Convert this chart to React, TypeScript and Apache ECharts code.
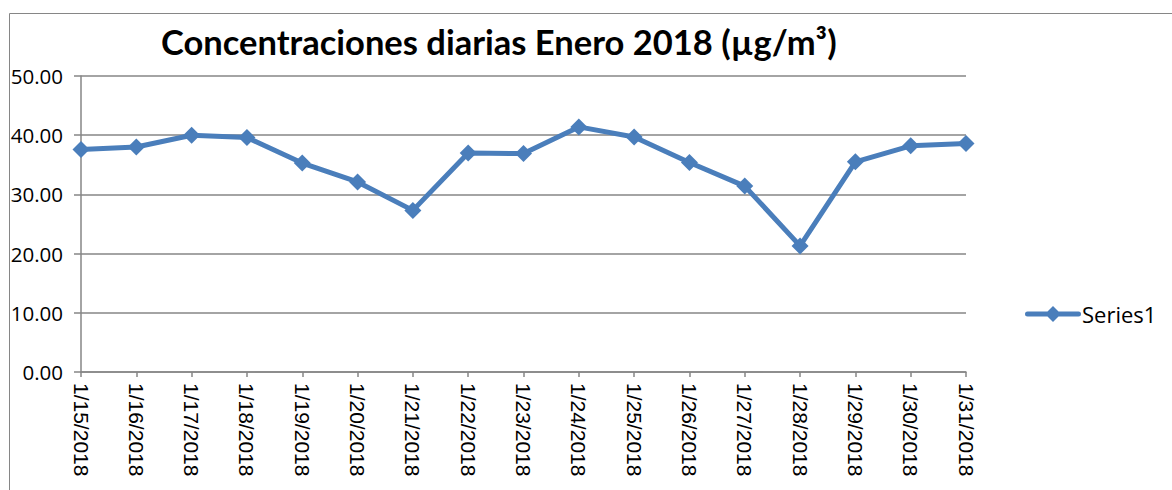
import React, { useEffect, useRef } from "react";
import * as echarts from "echarts";

const categories = [
  "1/15/2018", "1/16/2018", "1/17/2018", "1/18/2018", "1/19/2018", "1/20/2018",
  "1/21/2018", "1/22/2018", "1/23/2018", "1/24/2018", "1/25/2018", "1/26/2018",
  "1/27/2018", "1/28/2018", "1/29/2018", "1/30/2018", "1/31/2018",
];
const series1 = [
  37.6, 38.0, 40.0, 39.6, 35.3, 32.1, 27.3, 37.0, 36.9, 41.4, 39.7, 35.4, 31.4,
  21.3, 35.5, 38.2, 38.6,
];
const titleText = "Concentraciones diarias Enero 2018 (µg/m³)";
const seriesName = "Series1";

const legendIcon =
  "path://M2.5,5.5 L53.5,5.5 A2.5,2.5 0 0 1 53.5,10.5 L2.5,10.5 A2.5,2.5 0 0 1 2.5,5.5 Z M28,0 L36,8 L28,16 L20,8 Z";

export default function App() {
  const ref = useRef<HTMLDivElement>(null);
  useEffect(() => {
    if (!ref.current) return;
    const chart = echarts.init(ref.current, null, { renderer: "svg" });
    const blue = "#4A7EBB";
    const grey = "#868686";
    chart.setOption({
      animation: false,
      backgroundColor: "#ffffff",
      title: {
        text: titleText,
        left: 156,
        top: 19,
        textStyle: {
          fontFamily: "Lato, 'Open Sans', sans-serif",
          fontWeight: "bold",
          fontSize: 34.5,
          color: "#000",
        },
      },
      legend: {
        data: [{ name: seriesName, icon: legendIcon }],
        left: 1020,
        top: 298,
        itemWidth: 56,
        itemHeight: 16,
        itemGap: 4,
        symbolKeepAspect: false,
        textStyle: {
          fontFamily: "'Open Sans', Lato, sans-serif",
          fontSize: 22,
          color: "#000",
          padding: [0, 0, 0, -4],
        },
      },
      graphic: [
        {
          type: "rect",
          shape: { x: 9.5, y: 13.5, width: 1200, height: 520 },
          style: { fill: "none", stroke: grey, lineWidth: 1 },
          silent: true,
        },
      ],
      grid: { left: 81, right: 206, top: 76, bottom: 118, containLabel: false },
      xAxis: {
        type: "category",
        data: categories,
        boundaryGap: false,
        axisLine: { lineStyle: { color: grey, width: 1.5 } },
        axisTick: { alignWithLabel: true, length: 5, lineStyle: { color: grey, width: 1.5 } },
        axisLabel: {
          rotate: -90,
          interval: 0,
          margin: 11,
          fontFamily: "'Liberation Sans', Arial, sans-serif",
          fontSize: 21,
          color: "#000",
        },
        splitLine: { show: false },
      },
      yAxis: {
        type: "value",
        min: 0,
        max: 50,
        interval: 10,
        axisLine: { show: true, lineStyle: { color: grey, width: 1.5 } },
        axisTick: { show: true, length: 7, lineStyle: { color: grey, width: 1.5 } },
        axisLabel: {
          formatter: (v: number) => v.toFixed(2),
          margin: 18,
          fontFamily: "'Open Sans', Lato, sans-serif",
          fontSize: 20.5,
          color: "#000",
        },
        splitLine: { lineStyle: { color: grey, width: 1.5 } },
      },
      series: [
        {
          name: seriesName,
          type: "line",
          data: series1,
          symbol: "diamond",
          symbolSize: 17,
          lineStyle: { color: blue, width: 5 },
          itemStyle: { color: blue },
        },
      ],
    });
    return () => chart.dispose();
  }, []);
  return (
    <div
      ref={ref}
      style={{ position: "absolute", left: 0, top: 0, width: 1172, height: 490 }}
    />
  );
}
